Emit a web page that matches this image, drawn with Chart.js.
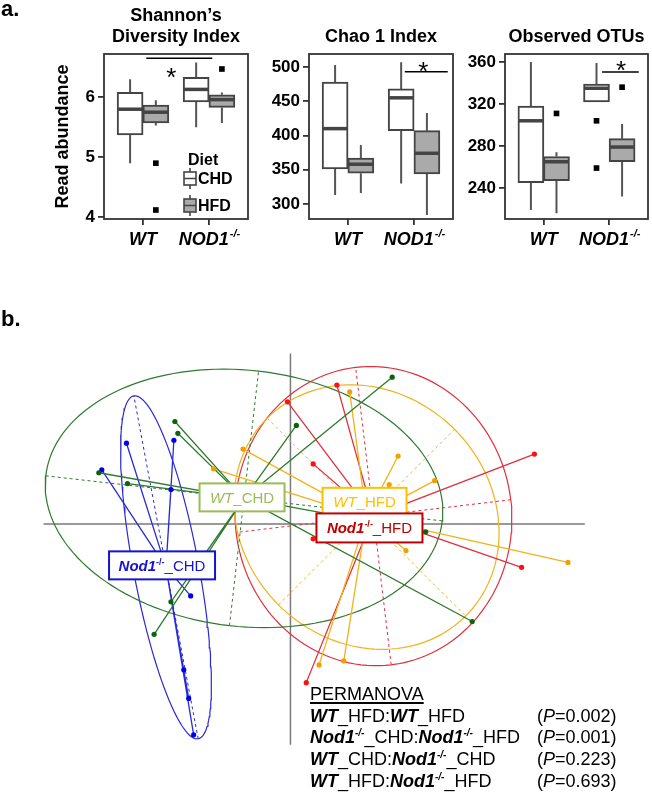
<!DOCTYPE html>
<html>
<head>
<meta charset="utf-8">
<title>Alpha diversity and PCoA</title>
<script src="https://cdn.jsdelivr.net/npm/chart.js@4.4.1/dist/chart.umd.min.js"></script>
<style>
  body { margin: 0; background: #fff; }
  #page { position: relative; width: 652px; height: 796px; overflow: hidden; font-family: 'Liberation Sans', Arial, sans-serif; }
  canvas { position: absolute; }
  .tag { position: absolute; left: 1px; font-weight: bold; font-size: 22px; color: #000; z-index: 3; }
  #perm { position: absolute; left: 310px; top: 684px; font-size: 18px; line-height: 21.7px; color: #000; white-space: nowrap; z-index: 3; }
  #perm .row { position: relative; height: 21.7px; }
  #perm .p { position: absolute; left: 227px; top: 0; }
  #perm sup { font-size: 10px; line-height: 0; vertical-align: 7px; }
  #perm u { text-decoration-thickness: 1.5px; text-underline-offset: 2px; }
</style>
</head>
<body>
<div id="page">
  <div class="tag" style="top:-4px">a.</div>
  <div class="tag" style="top:306px">b.</div>
  <canvas id="shannon" width="252" height="250" style="left:0;top:0"></canvas>
  <canvas id="chao" width="205" height="250" style="left:252px;top:0"></canvas>
  <canvas id="otus" width="195" height="250" style="left:457px;top:0"></canvas>
  <canvas id="pcoa" width="652" height="546" style="left:0;top:250px"></canvas>
  <div id="perm">
    <div class="row"><u>PERMANOVA</u></div>
    <div class="row"><b><i>WT</i></b>_HFD:<b><i>WT</i></b>_HFD<span class="p">(<i>P</i>=0.002)</span></div>
    <div class="row"><b><i>Nod1<sup>-/-</sup></i></b>_CHD:<b><i>Nod1<sup>-/-</sup></i></b>_HFD<span class="p">(<i>P</i>=0.001)</span></div>
    <div class="row"><b><i>WT</i></b>_CHD:<b><i>Nod1<sup>-/-</sup></i></b>_CHD<span class="p">(<i>P</i>=0.223)</span></div>
    <div class="row"><b><i>WT</i></b>_HFD:<b><i>Nod1<sup>-/-</sup></i></b>_HFD<span class="p">(<i>P</i>=0.693)</span></div>
  </div>
</div>
<script>
// ---- panel a: box plots ----
const genotypes = ['WT', 'NOD1'];
const diets = ['CHD', 'HFD'];

// box stats per genotype: [lower whisker, Q1, median, Q3, upper whisker]
const shannonCHD = [[4.90, 5.37, 5.80, 6.08, 6.30], [5.50, 5.92, 6.13, 6.33, 6.58]];
const shannonHFD = [[5.53, 5.57, 5.75, 5.87, 5.95], [5.57, 5.83, 5.96, 6.04, 6.08]];
const shannonOutCHD = [[], []];
const shannonOutHFD = [[4.90, 4.12], [6.47]];
const shannonTicks = [4, 5, 6];
const shannonSig = [1.05, 2.05, 6.65, 1.43, 6.44]; // bar from, bar to, bar y, star x, star y

const chaoCHD = [[313, 351, 410, 478, 503], [330, 407, 455, 468, 507]];
const chaoHFD = [[316, 345, 358, 367, 386], [284, 344, 374, 407, 433]];
const chaoOutCHD = [[], []];
const chaoOutHFD = [[], []];
const chaoTicks = [300, 350, 400, 450, 500];
const chaoSig = [1.86, 2.51, 493, 2.14, 503];

const otuCHD = [[219, 245, 304, 318, 360], [322, 322, 335, 339, 359]];
const otuHFD = [[216, 247, 265, 270, 274], [232, 265, 279, 287, 301]];
const otuOutCHD = [[], [304, 259]];
const otuOutHFD = [[311], [336]];
const otuTicks = [240, 280, 320, 360];
const otuSig = [1.89, 2.45, 350.5, 2.18, 358];

const boxOffset = 0.195;
const FONT = "'Liberation Sans', Arial, sans-serif";

function boxPlugin(p) {
  return {
    id: 'boxParts',
    beforeDatasetsDraw(chart) {
      const { ctx, scales: { x, y } } = chart;
      ctx.save();
      ctx.strokeStyle = '#555';
      ctx.lineWidth = 2;
      [p.chd, p.hfd].forEach((stats, d) => {
        stats.forEach((s, g) => {
          const px = x.getPixelForValue(g + 1 + (d ? boxOffset : -boxOffset));
          ctx.beginPath();
          ctx.moveTo(px, y.getPixelForValue(s[0]));
          ctx.lineTo(px, y.getPixelForValue(s[1]));
          ctx.moveTo(px, y.getPixelForValue(s[3]));
          ctx.lineTo(px, y.getPixelForValue(s[4]));
          ctx.stroke();
        });
      });
      ctx.restore();
    },
    afterDatasetsDraw(chart) {
      const { ctx, chartArea: a, scales: { x, y } } = chart;
      ctx.save();
      // medians
      ctx.strokeStyle = '#444';
      ctx.lineWidth = 3.5;
      [p.chd, p.hfd].forEach((stats, d) => {
        const meta = chart.getDatasetMeta(d);
        stats.forEach((s, g) => {
          const bar = meta.data[g];
          const py = y.getPixelForValue(s[2]);
          ctx.beginPath();
          ctx.moveTo(bar.x - bar.width / 2 + 1, py);
          ctx.lineTo(bar.x + bar.width / 2 - 1, py);
          ctx.stroke();
        });
      });
      // frame
      ctx.strokeStyle = '#333';
      ctx.lineWidth = 1.8;
      ctx.strokeRect(a.left, a.top, a.right - a.left, a.bottom - a.top);
      // significance
      ctx.strokeStyle = '#000';
      ctx.lineWidth = 1.5;
      const sy = y.getPixelForValue(p.sig[2]);
      ctx.beginPath();
      ctx.moveTo(x.getPixelForValue(p.sig[0]), sy);
      ctx.lineTo(x.getPixelForValue(p.sig[1]), sy);
      ctx.stroke();
      ctx.fillStyle = '#000';
      ctx.font = '26px ' + FONT;
      ctx.textAlign = 'center';
      ctx.textBaseline = 'alphabetic';
      ctx.fillText('*', x.getPixelForValue(p.sig[3]), y.getPixelForValue(p.sig[4]) + 15);
      // titles
      ctx.font = 'bold 18px ' + FONT;
      const cx = (a.left + a.right) / 2;
      const lines = p.title;
      lines.forEach((t, i) => ctx.fillText(t, cx, 42 - (lines.length - 1 - i) * 21));
      // x labels
      genotypes.forEach((g, i) => {
        const px = x.getPixelForValue(i + 1);
        ctx.font = 'italic bold 18px ' + FONT;
        const w1 = ctx.measureText(g).width;
        let w2 = 0;
        if (i === 1) { ctx.font = 'italic bold 11px ' + FONT; w2 = ctx.measureText('-/-').width; }
        const start = px - (w1 + w2) / 2;
        ctx.textAlign = 'left';
        ctx.font = 'italic bold 18px ' + FONT;
        ctx.fillText(g, start, a.bottom + 26);
        if (i === 1) {
          ctx.font = 'italic bold 11px ' + FONT;
          ctx.fillText('-/-', start + w1 + 1, a.bottom + 18);
        }
      });
      // legend
      if (p.legend) {
        const lx = a.left + 80, ly = a.top;
        ctx.textAlign = 'left';
        ctx.font = 'bold 16px ' + FONT;
        ctx.fillText('Diet', lx + 4, ly + 111);
        diets.forEach((dName, d) => {
          const top = ly + 118 + d * 27;
          ctx.fillStyle = d ? '#aaaaaa' : '#ffffff';
          ctx.fillRect(lx, top, 12, 13);
          ctx.strokeStyle = '#444';
          ctx.lineWidth = 1.6;
          ctx.strokeRect(lx, top, 12, 13);
          ctx.beginPath();
          ctx.moveTo(lx, top + 6.5); ctx.lineTo(lx + 12, top + 6.5);
          ctx.moveTo(lx + 6, top - 4); ctx.lineTo(lx + 6, top);
          ctx.moveTo(lx + 6, top + 13); ctx.lineTo(lx + 6, top + 17);
          ctx.stroke();
          ctx.fillStyle = '#000';
          ctx.fillText(dName, lx + 14, top + 12);
        });
      }
      ctx.restore();
    }
  };
}

function boxPanel(id, p) {
  const datasets = [];
  [p.chd, p.hfd].forEach((stats, d) => {
    datasets.push({
      type: 'bar',
      label: diets[d],
      data: stats.map((s, g) => ({ x: g + 1 + (d ? boxOffset : -boxOffset), y: [s[1], s[3]] })),
      backgroundColor: d ? '#aaaaaa' : '#ffffff',
      borderColor: '#444',
      borderWidth: 2,
      borderSkipped: false,
      barThickness: 26,
      grouped: false,
      order: 2
    });
  });
  [p.outChd, p.outHfd].forEach((outs, d) => {
    const pts = [];
    outs.forEach((vals, g) => vals.forEach(v => pts.push({ x: g + 1 + (d ? boxOffset : -boxOffset), y: v })));
    datasets.push({
      type: 'scatter',
      data: pts,
      pointStyle: 'rect',
      pointRadius: 4,
      backgroundColor: '#000',
      borderWidth: 0,
      order: 1
    });
  });
  const grid = { display: true, drawOnChartArea: false, drawTicks: true, tickLength: 6, color: '#333', lineWidth: 1.8, offset: false };
  new Chart(document.getElementById(id), {
    type: 'bar',
    data: { datasets },
    options: {
      responsive: false,
      animation: false,
      devicePixelRatio: 1,
      layout: { padding: { top: 54, right: 4, left: 0, bottom: 0 } },
      plugins: { legend: { display: false }, tooltip: { enabled: false }, title: { display: false } },
      scales: {
        x: {
          type: 'linear', min: 0.41, max: 2.59, offset: false,
          grid, border: { display: false },
          ticks: { display: false },
          afterBuildTicks: axis => { axis.ticks = genotypes.map((g, i) => ({ value: i + 1 })); },
          afterFit: axis => { axis.height = 31; }
        },
        y: {
          type: 'linear', min: p.min, max: p.max,
          grid, border: { display: false },
          ticks: { color: '#000', padding: 3, font: { family: FONT, weight: 'bold', size: 17 } },
          afterBuildTicks: axis => { axis.ticks = p.ticks.map(v => ({ value: v })); },
          afterFit: axis => { axis.width = p.axisWidth; },
          title: {
            display: !!p.yTitle, text: p.yTitle || '', color: '#000',
            font: { family: FONT, weight: 'bold', size: 18 },
            padding: { top: 52, bottom: 0 }
          }
        }
      }
    },
    plugins: [boxPlugin(p)]
  });
}

boxPanel('shannon', { chd: shannonCHD, hfd: shannonHFD, outChd: shannonOutCHD, outHfd: shannonOutHFD,
  ticks: shannonTicks, min: 3.97, max: 6.72, sig: shannonSig, axisWidth: 104,
  title: ['Shannon\u2019s', 'Diversity Index'], yTitle: 'Read abundance', legend: true });
boxPanel('chao', { chd: chaoCHD, hfd: chaoHFD, outChd: chaoOutCHD, outHfd: chaoOutHFD,
  ticks: chaoTicks, min: 278, max: 519, sig: chaoSig, axisWidth: 57, title: ['Chao 1 Index'] });
boxPanel('otus', { chd: otuCHD, hfd: otuHFD, outChd: otuOutCHD, outHfd: otuOutHFD,
  ticks: otuTicks, min: 210.5, max: 367.6, sig: otuSig, axisWidth: 48, title: ['Observed OTUs'] });

// ---- panel b: PCoA ----
const wtChdPoints = [[-1.17, 1.04], [-1.14, 0.92], [-1.94, 0.52], [-1.65, 0.41], [0.06, 1.00],
  [1.03, 1.49], [1.84, -0.99], [1.37, -0.08], [-1.21, -0.79], [-1.38, -1.12]];
const nodChdPoints = [[-1.91, 0.55], [-1.66, 0.82], [-1.18, 0.85], [-1.21, 0.35], [-1.01, -0.73],
  [-1.08, -1.48], [-1.03, -1.77], [-0.98, -2.14]];
const wtHfdPoints = [[-0.48, 0.76], [-0.78, 0.56], [1.09, 0.69], [1.46, 0.44], [1.00, 0.40],
  [0.60, 1.34], [2.81, -0.39], [1.17, -0.27], [0.29, -1.43], [0.54, -1.39]];
const nodHfdPoints = [[0.47, 1.41], [-0.03, 1.24], [0.23, 0.61], [0.23, -0.15], [2.47, 0.71],
  [2.34, -0.44], [0.16, -1.61]];

const centroids = [[-0.47, 0.26], [-1.26, -0.44], [0.77, 0.07], [0.84, 0.08]];
// ellipse: [semi-axis a, semi-axis b, angle of a in degrees]
const ellipses = [[2.02, 1.30, -6.5], [1.77, 0.33, 100.6], [1.42, 1.26, -45], [1.52, 1.40, 96.8]];
const axisH = [-2.50, 2.98];
const axisV = [-2.24, 1.73];

const groupPoints = [wtChdPoints, nodChdPoints, wtHfdPoints, nodHfdPoints];
const lineColors = ['#2e7a2e', '#2a2ad8', '#f2b21b', '#e0303c'];
const dotColors = ['#0b640b', '#0000e6', '#f2a000', '#ff1010'];

const labelPos = [[-0.49, 0.27], [-1.30, -0.42], [0.75, 0.23], [0.80, -0.04]];
const labelSize = [[85, 28], [106, 28], [84, 27], [106, 29]];
const labelColors = ['#9bbb59', '#1515cc', '#ffc000', '#c00000'];
const labelParts = [
  [['WT', 'italic 15px ' + FONT, 0], ['_CHD', '15px ' + FONT, 0]],
  [['Nod1', 'italic bold 15px ' + FONT, 0], ['-/-', 'bold 9px ' + FONT, 6], ['_CHD', '15px ' + FONT, 0]],
  [['WT', 'italic 15px ' + FONT, 0], ['_HFD', '15px ' + FONT, 0]],
  [['Nod1', 'italic bold 15px ' + FONT, 0], ['-/-', 'bold 9px ' + FONT, 6], ['_HFD', '15px ' + FONT, 0]]
];
const labelOrder = [0, 2, 3, 1];

const GAP = { x: null, y: null };
function ellipseLine(c, e) {
  const th = e[2] * Math.PI / 180, pts = [];
  for (let i = 0; i <= 144; i++) {
    const t = i / 144 * 2 * Math.PI;
    pts.push({
      x: c[0] + e[0] * Math.cos(t) * Math.cos(th) - e[1] * Math.sin(t) * Math.sin(th),
      y: c[1] + e[0] * Math.cos(t) * Math.sin(th) + e[1] * Math.sin(t) * Math.cos(th)
    });
  }
  return pts;
}
function ellipseAxes(c, e) {
  const th = e[2] * Math.PI / 180;
  const ux = Math.cos(th), uy = Math.sin(th);
  return [
    { x: c[0] - e[0] * ux, y: c[1] - e[0] * uy }, { x: c[0] + e[0] * ux, y: c[1] + e[0] * uy }, GAP,
    { x: c[0] + e[1] * uy, y: c[1] - e[1] * ux }, { x: c[0] - e[1] * uy, y: c[1] + e[1] * ux }
  ];
}

const pcoaSets = [];
groupPoints.forEach((pts, g) => {
  const c = centroids[g];
  pcoaSets.push({ data: pts.map(p => ({ x: p[0], y: p[1] })), pointRadius: 2.6, pointBackgroundColor: dotColors[g], pointBorderWidth: 0, showLine: false, order: 1 });
  const spider = [];
  pts.forEach(p => spider.push({ x: c[0], y: c[1] }, { x: p[0], y: p[1] }, GAP));
  pcoaSets.push({ data: spider, showLine: true, borderColor: lineColors[g], borderWidth: 1.3, pointRadius: 0, spanGaps: false, order: 2 });
  pcoaSets.push({ data: ellipseAxes(c, ellipses[g]), showLine: true, borderColor: lineColors[g], borderWidth: 1, borderDash: [3, 3], pointRadius: 0, spanGaps: false, order: 3 });
  pcoaSets.push({ data: ellipseLine(c, ellipses[g]), showLine: true, borderColor: lineColors[g], borderWidth: 1.2, pointRadius: 0, tension: 0, order: 4 });
});
pcoaSets.push({ data: [{ x: axisH[0], y: 0 }, { x: axisH[1], y: 0 }, GAP, { x: 0, y: axisV[0] }, { x: 0, y: axisV[1] }],
  showLine: true, borderColor: '#7a7a7a', borderWidth: 1.5, pointRadius: 0, spanGaps: false, order: 5 });

const labelPlugin = {
  id: 'groupLabels',
  afterDatasetsDraw(chart) {
    const { ctx, scales: { x, y } } = chart;
    labelOrder.forEach(i => {
      const cx = x.getPixelForValue(labelPos[i][0]);
      const cy = y.getPixelForValue(labelPos[i][1]);
      const [w, h] = labelSize[i];
      ctx.save();
      ctx.fillStyle = '#fff';
      ctx.fillRect(cx - w / 2, cy - h / 2, w, h);
      ctx.strokeStyle = labelColors[i];
      ctx.lineWidth = 2;
      ctx.strokeRect(cx - w / 2, cy - h / 2, w, h);
      let total = 0;
      labelParts[i].forEach(pt => { ctx.font = pt[1]; total += ctx.measureText(pt[0]).width; });
      let px = cx - total / 2;
      ctx.fillStyle = labelColors[i];
      ctx.textBaseline = 'alphabetic';
      labelParts[i].forEach(pt => {
        ctx.font = pt[1];
        ctx.fillText(pt[0], px, cy + 5.5 - pt[2]);
        px += ctx.measureText(pt[0]).width;
      });
      ctx.restore();
    });
  }
};

new Chart(document.getElementById('pcoa'), {
  type: 'scatter',
  data: { datasets: pcoaSets },
  options: {
    responsive: false,
    animation: false,
    devicePixelRatio: 1,
    layout: { padding: 0 },
    plugins: { legend: { display: false }, tooltip: { enabled: false } },
    scales: {
      x: { type: 'linear', display: false, min: -2.90, max: 3.62 },
      y: { type: 'linear', display: false, min: -2.72, max: 2.74 }
    }
  },
  plugins: [labelPlugin]
});
</script>
</body>
</html>
